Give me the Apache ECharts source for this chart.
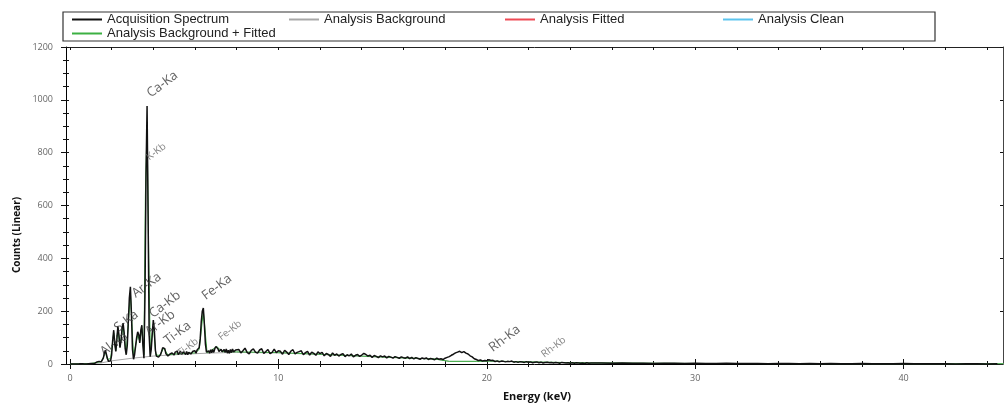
<!DOCTYPE html>
<html>
<head>
<meta charset="utf-8">
<script src="https://cdn.jsdelivr.net/npm/echarts@6.0.0/dist/echarts.min.js"></script>
<style>
    html, body { margin: 0; padding: 0; background: #fff; }
    #chart { width: 1004px; height: 404px; }
</style>
</head>
<body>
<div id="chart"></div>
<script>
// 谱图通道: 0-8 keV 每 0.05, 8.1-25 keV 每 0.1, 25.5-44.5 keV 每 0.5
var fineStart = 0, fineStep = 0.05;
var countsFine = [
    0, 0, 0, 0, 0, 0, 0, 0, 0, 0, 1, 0, 1, 0, 0, 1, 0, 1, 1, 2, 2,
    3, 2, 4, 3, 5, 8, 12, 10, 6, 8, 10, 22, 40, 52, 45, 20, 10, 8, 12,
    35, 90, 128, 75, 48, 95, 143, 110, 62, 88, 135, 155, 118, 58, 35, 70, 160, 250, 292, 190,
    55, 18, 35, 68, 100, 122, 112, 80, 128, 147, 70, 22, 260, 720, 977, 560, 110, 28, 55, 118,
    166, 125, 52, 30, 24, 26, 30, 36, 48, 62, 68, 58, 40, 33, 30, 34, 38, 36, 42, 40,
    34, 45, 38, 48, 35, 42, 49, 37, 33, 46, 50, 36, 47, 35, 44, 51, 38, 34, 48, 42,
    50, 41, 53, 55, 62, 95, 160, 200, 212, 150, 75, 45, 38, 50, 41, 54, 43, 55, 44, 58,
    66, 72, 58, 47, 42, 56, 46, 40, 55, 44, 57, 41, 52, 40, 55, 43, 57, 46, 39, 53,
    47
];
var midStart = 8.1, midStep = 0.1;
var countsMid = [
    55, 42, 50, 60, 44, 38, 52, 57, 45, 41,
    53, 58, 40, 47, 55, 39, 44, 56, 43, 50,
    48, 37, 52, 45, 36, 49, 54, 38, 44, 47,
    50, 35, 43, 48, 34, 45, 40, 33, 46, 39,
    44, 31, 40, 36, 29, 42, 33, 38, 30, 36,
    39, 28, 35, 31, 38, 27, 33, 36, 29, 34,
    40, 36, 30, 33, 25, 32, 29, 24, 31, 27,
    30, 23, 29, 26, 22, 28, 25, 21, 27, 24,
    22, 27, 20, 25, 19, 24, 21, 18, 23, 20,
    23, 17, 21, 19, 16, 22, 18, 20, 17, 22,
    25, 28, 33, 37, 42, 45, 48, 43, 47, 41,
    38, 31, 27, 20, 17, 13, 15, 11, 13, 12,
    16, 13, 14, 9, 12, 8, 11, 10, 8, 10,
    9, 11, 7, 9, 6, 9, 8, 6, 9, 7,
    8, 5, 7, 8, 5, 7, 4, 6, 7, 5,
    6, 4, 6, 5, 3, 6, 5, 4, 5, 3,
    5, 3, 5, 4, 3, 4, 2, 5, 3, 4
];
var tailStart = 25.5, tailStep = 0.5;
var countsTail = [
    4, 3, 4, 3, 3, 2, 3, 3, 2, 3,
    2, 2, 3, 2, 2, 2, 1, 2, 2, 1,
    2, 1, 2, 1, 1, 2, 1, 1, 1, 2,
    1, 1, 1, 1, 0, 1, 1, 0, 1
];

// 拟合结果(背景+峰)
var fitEnergy = [0, 0.4, 0.5, 0.6, 1.0, 1.3, 1.5, 1.6, 1.7, 1.8, 1.95, 2.1, 2.2, 2.3, 2.4, 2.55, 2.7, 2.9, 3.05, 3.25,
    3.35, 3.45, 3.55, 3.62, 3.7, 3.78, 3.86, 4.0, 4.12, 4.3, 4.5, 4.7, 5.0, 6.0, 6.2, 6.4, 6.58, 7.05, 7.3, 8,
    10, 12, 14, 16, 17.5, 18.2, 19.5, 20.2, 22, 25, 30, 40, 44.8];
var fitCounts = [0, 1, 2, 1, 2, 6, 9, 25, 45, 18, 20, 118, 50, 135, 65, 145, 40, 270, 30, 110,
    85, 135, 35, 640, 900, 400, 40, 150, 35, 32, 60, 34, 38, 42, 55, 200, 42, 66, 47, 46,
    43, 37, 30, 23, 19, 10, 10, 11, 8, 4, 2, 1, 1];

// 背景
var bgEnergy = [0, 1, 1.5, 2, 3, 4, 5, 6, 7, 8, 10, 12, 14, 16, 17.5, 18.2, 19.5, 20.2, 22, 25, 30, 40, 44.8];
var bgCounts = [0, 1, 4, 12, 22, 30, 35, 39, 42, 44, 42, 36, 29, 23, 19, 10, 10, 11, 7, 4, 2, 1, 1];

// 峰标注
var peakNames = ['Al-Ka', 'S-Ka', 'Ar-Ka', 'Ar-Kb', 'Ca-Kb', 'K-Kb', 'Ca-Ka', 'Ti-Ka', 'Ti-Kb', 'Fe-Ka', 'Fe-Kb', 'Rh-Ka', 'Rh-Kb'];
var peakLabelEnergy = [1.71, 2.38, 3.24, 3.87, 4.06, 3.87, 3.96, 4.78, 5.35, 6.60, 7.32, 20.37, 22.82];
var peakLabelCounts = [21, 112, 241, 97, 165, 764, 999, 63, 21, 233, 82, 36, 17];
var smallLabels = ['K-Kb', 'Ti-Kb', 'Fe-Kb', 'Rh-Kb'];

// 刻度
var xTickLabels = [0, 10, 20, 30, 40];
var xMinorTicks = [2, 4, 6, 8, 12, 14, 16, 18, 22, 24, 26, 28, 32, 34, 36, 38, 42, 44];

var legendNames = ['Acquisition Spectrum', 'Analysis Background', 'Analysis Fitted', 'Analysis Clean', 'Analysis Background + Fitted'];

var X_MIN = -0.19, X_MAX = 44.77;
var FONT = 'Open Sans, Arial, sans-serif';

function toPairs(start, step, arr) {//通道转能量
    var out = [];
    for (var i = 0; i < arr.length; i++) {
        out.push([+(start + i * step).toFixed(3), arr[i]]);
    }
    return out;
}

function zip(a, b) {
    var out = [];
    for (var i = 0; i < a.length; i++) {
        out.push([a[i], b[i]]);
    }
    return out;
}

var spectrum = toPairs(fineStart, fineStep, countsFine)
    .concat(toPairs(midStart, midStep, countsMid))
    .concat(toPairs(tailStart, tailStep, countsTail));

var labelData = [];
for (var i = 0; i < peakNames.length; i++) {
    var small = smallLabels.indexOf(peakNames[i]) >= 0;
    labelData.push({
        name: peakNames[i],
        value: [peakLabelEnergy[i], peakLabelCounts[i]],
        label: {fontSize: small ? 10 : 13, color: small ? '#666' : '#3a3a3a'}
    });
}

// x 轴(同位置叠加几根轴来画贯穿刻度)
function xAxisOf(pos, extra) {
    var base = {
        type: 'value', position: pos, min: X_MIN, max: X_MAX,
        splitLine: {show: false},
        axisLine: {show: false, onZero: false},
        axisLabel: {show: false},
        axisTick: {show: false}
    };
    return Object.assign(base, extra);
}

function yAxisOf(pos, extra) {
    var base = {
        type: 'value', position: pos, min: 0, max: 1200, interval: 200,
        splitLine: {show: false},
        axisLine: {show: false, onZero: false},
        axisLabel: {show: false},
        axisTick: {show: false}
    };
    return Object.assign(base, extra);
}

var tickLine = {color: '#111', width: 1};

var option = {
    animation: false,
    backgroundColor: '#fff',
    grid: {left: 66, right: 1, top: 47, bottom: 40},
    legend: [
        {data: [legendNames[0]], left: 72, top: 13},
        {data: [legendNames[1]], left: 289, top: 13},
        {data: [legendNames[2]], left: 505, top: 13},
        {data: [legendNames[3]], left: 723, top: 13},
        {data: [legendNames[4]], left: 72, top: 27}
    ].map(function (l) {
        return Object.assign(l, {
            icon: 'rect', itemWidth: 30, itemHeight: 2, itemGap: 0, padding: 0,
            textStyle: {fontSize: 13, color: '#222', fontFamily: 'Liberation Sans, Arial, sans-serif'}
        });
    }),
    xAxis: [
        xAxisOf('bottom', {
            axisLine: {show: true, onZero: false, lineStyle: {color: '#000', width: 1}},
            axisTick: {show: true, customValues: xTickLabels, length: 5, lineStyle: tickLine},
            axisLabel: {show: true, customValues: xTickLabels, margin: 10, fontSize: 9, color: '#666', fontFamily: FONT}
        }),
        xAxisOf('bottom', {axisTick: {show: true, inside: true, customValues: xTickLabels, length: 5, lineStyle: tickLine}}),
        xAxisOf('bottom', {axisTick: {show: true, customValues: xMinorTicks, length: 3, lineStyle: tickLine}}),
        xAxisOf('bottom', {axisTick: {show: true, inside: true, customValues: xMinorTicks, length: 3, lineStyle: tickLine}}),
        xAxisOf('top', {
            axisLine: {show: true, onZero: false, lineStyle: {color: '#222', width: 1}},
            axisTick: {show: true, inside: true, customValues: xTickLabels.concat(xMinorTicks), length: 3, lineStyle: tickLine}
        })
    ],
    yAxis: [
        yAxisOf('left', {
            axisLine: {show: true, onZero: false, lineStyle: {color: '#000', width: 1}},
            axisTick: {show: true, length: 5, lineStyle: tickLine},
            minorTick: {show: true, splitNumber: 4, length: 3, lineStyle: tickLine},
            axisLabel: {
                show: true, margin: 13, fontSize: 9, color: '#666', fontFamily: FONT,
                formatter: function (v) { return String(v); }
            }
        }),
        yAxisOf('left', {
            axisTick: {show: true, inside: true, length: 3, lineStyle: tickLine},
            minorTick: {show: true, splitNumber: 4, length: 3, lineStyle: tickLine}
        }),
        yAxisOf('right', {
            axisLine: {show: true, onZero: false, lineStyle: {color: '#444', width: 1}},
            axisTick: {show: true, inside: true, length: 3, lineStyle: tickLine}
        })
    ],
    series: [
        {
            name: legendNames[1], type: 'line', data: zip(bgEnergy, bgCounts),
            showSymbol: false, color: '#a8a8a8', lineStyle: {width: 1}, z: 1
        },
        {
            name: legendNames[4], type: 'line', data: zip(fitEnergy, fitCounts),
            showSymbol: false, color: '#3cb043', lineStyle: {width: 1}, z: 2
        },
        {name: legendNames[2], type: 'line', data: [], showSymbol: false, color: '#ef4a55'},
        {name: legendNames[3], type: 'line', data: [], showSymbol: false, color: '#5cc4ee'},
        {
            name: legendNames[0], type: 'line', data: spectrum,
            showSymbol: false, color: '#111', lineStyle: {width: 1.5}, z: 5
        },
        {
            name: 'peaks', type: 'scatter', data: labelData, symbolSize: 0, z: 6,
            label: {
                show: true, formatter: '{b}', position: [0, 0], align: 'left', verticalAlign: 'bottom',
                rotate: 37, fontFamily: FONT
            }
        }
    ],
    graphic: [
        {
            type: 'rect', shape: {x: 63, y: 12, width: 872, height: 29},
            style: {fill: 'none', stroke: '#333', lineWidth: 1.2}, silent: true
        },
        {
            type: 'text', x: 17, y: 235, rotation: Math.PI / 2,
            style: {text: 'Counts (Linear)', font: 'bold 10px ' + FONT, fill: '#111', align: 'center', verticalAlign: 'middle'}
        },
        {
            type: 'text', x: 537, y: 397,
            style: {text: 'Energy (keV)', font: 'bold 11px ' + FONT, fill: '#111', align: 'center', verticalAlign: 'middle'}
        }
    ]
};

var chart = echarts.init(document.getElementById('chart'));
chart.setOption(option);
</script>
</body>
</html>
